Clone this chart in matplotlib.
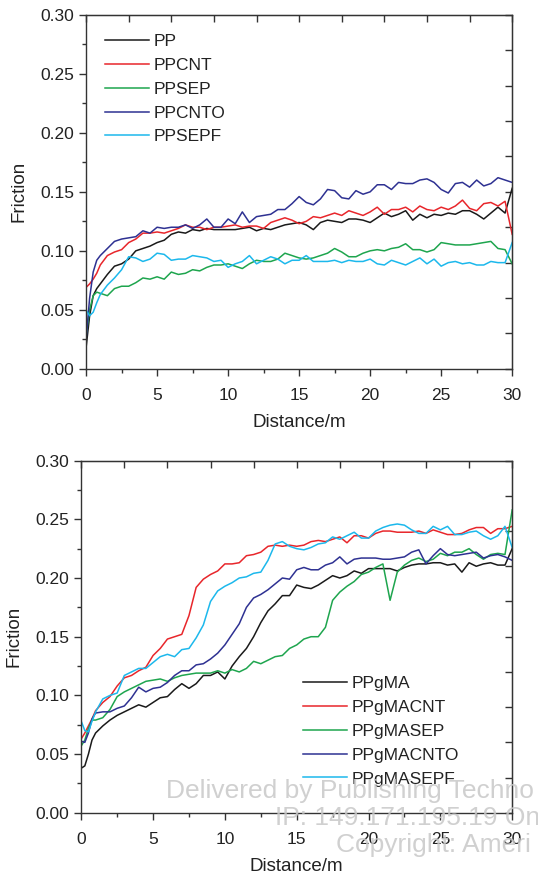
import numpy as np
import matplotlib
matplotlib.use("Agg")
import matplotlib.pyplot as plt
from matplotlib.ticker import MultipleLocator

plt.rcParams["font.family"] = ["Liberation Sans", "DejaVu Sans"]
plt.rcParams["font.size"] = 12

# sampled distance [m]: fine steps at the start, then every 0.5 m
distance = np.concatenate([[0, 0.25, 0.5, 0.75], np.arange(1, 30.01, 0.5)])

# upper panel
pp = [0.018, 0.045, 0.062, 0.068,
      0.072, 0.080, 0.087, 0.089, 0.093, 0.100, 0.102, 0.104, 0.107, 0.109,
      0.114, 0.116, 0.115, 0.118, 0.117, 0.119, 0.118, 0.118, 0.118, 0.118,
      0.119, 0.120, 0.117, 0.119, 0.118, 0.120, 0.122, 0.123, 0.124, 0.122,
      0.118, 0.124, 0.126, 0.125, 0.124, 0.127, 0.127, 0.126, 0.124, 0.128,
      0.132, 0.129, 0.131, 0.134, 0.126, 0.131, 0.128, 0.131, 0.130, 0.132,
      0.131, 0.134, 0.134, 0.131, 0.127, 0.132, 0.137, 0.132, 0.153]
ppcnt = [0.069, 0.072, 0.076, 0.081,
         0.088, 0.096, 0.099, 0.101, 0.107, 0.110, 0.115, 0.115, 0.116, 0.115,
         0.117, 0.119, 0.122, 0.120, 0.120, 0.118, 0.120, 0.120, 0.121, 0.122,
         0.120, 0.121, 0.121, 0.119, 0.124, 0.126, 0.128, 0.126, 0.123, 0.125,
         0.129, 0.128, 0.130, 0.132, 0.130, 0.134, 0.132, 0.130, 0.133, 0.137,
         0.131, 0.135, 0.135, 0.137, 0.133, 0.138, 0.135, 0.134, 0.137, 0.135,
         0.138, 0.143, 0.136, 0.134, 0.140, 0.141, 0.138, 0.142, 0.114]
ppsep = [0.028, 0.050, 0.062, 0.065,
         0.064, 0.062, 0.068, 0.070, 0.070, 0.073, 0.077, 0.076, 0.078, 0.076,
         0.082, 0.080, 0.081, 0.084, 0.083, 0.086, 0.088, 0.088, 0.089, 0.087,
         0.085, 0.089, 0.092, 0.091, 0.091, 0.093, 0.098, 0.096, 0.094, 0.093,
         0.094, 0.096, 0.098, 0.102, 0.099, 0.095, 0.095, 0.098, 0.100, 0.101,
         0.100, 0.102, 0.103, 0.106, 0.101, 0.101, 0.099, 0.101, 0.107, 0.106,
         0.105, 0.105, 0.105, 0.106, 0.107, 0.108, 0.102, 0.101, 0.089]
ppcnto = [0.025, 0.060, 0.082, 0.092,
          0.096, 0.102, 0.108, 0.110, 0.111, 0.112, 0.117, 0.115, 0.120, 0.119,
          0.120, 0.120, 0.122, 0.119, 0.122, 0.127, 0.120, 0.120, 0.127, 0.123,
          0.133, 0.124, 0.129, 0.130, 0.131, 0.135, 0.135, 0.140, 0.146, 0.141,
          0.139, 0.144, 0.152, 0.151, 0.145, 0.144, 0.151, 0.148, 0.150, 0.156,
          0.156, 0.152, 0.158, 0.157, 0.157, 0.160, 0.161, 0.158, 0.152, 0.149,
          0.157, 0.158, 0.154, 0.160, 0.155, 0.157, 0.162, 0.160, 0.158]
ppsepf = [0.050, 0.045, 0.048, 0.056,
          0.063, 0.071, 0.077, 0.084, 0.095, 0.094, 0.091, 0.093, 0.098, 0.097,
          0.092, 0.093, 0.093, 0.096, 0.095, 0.094, 0.091, 0.092, 0.086, 0.089,
          0.091, 0.096, 0.089, 0.092, 0.095, 0.093, 0.089, 0.092, 0.092, 0.096,
          0.091, 0.091, 0.091, 0.092, 0.090, 0.092, 0.091, 0.091, 0.093, 0.089,
          0.088, 0.092, 0.090, 0.088, 0.091, 0.094, 0.089, 0.093, 0.087, 0.090,
          0.091, 0.089, 0.090, 0.088, 0.088, 0.091, 0.090, 0.090, 0.107]

# lower panel
ppgma = [0.038, 0.040, 0.050, 0.062,
         0.068, 0.074, 0.079, 0.083, 0.086, 0.089, 0.092, 0.090, 0.094, 0.098,
         0.099, 0.105, 0.110, 0.106, 0.110, 0.117, 0.117, 0.120, 0.114, 0.125,
         0.133, 0.140, 0.150, 0.162, 0.172, 0.178, 0.185, 0.185, 0.194, 0.192,
         0.191, 0.194, 0.198, 0.202, 0.200, 0.202, 0.206, 0.204, 0.208, 0.208,
         0.208, 0.208, 0.206, 0.209, 0.211, 0.212, 0.212, 0.213, 0.213, 0.211,
         0.212, 0.205, 0.213, 0.210, 0.212, 0.213, 0.211, 0.211, 0.225]
ppgmacnt = [0.063, 0.068, 0.074, 0.080,
            0.087, 0.094, 0.099, 0.108, 0.115, 0.117, 0.121, 0.124, 0.134, 0.140,
            0.148, 0.150, 0.152, 0.168, 0.192, 0.199, 0.203, 0.206, 0.212, 0.212,
            0.213, 0.219, 0.220, 0.222, 0.227, 0.228, 0.227, 0.228, 0.227, 0.228,
            0.231, 0.232, 0.231, 0.233, 0.235, 0.230, 0.236, 0.236, 0.234, 0.238,
            0.240, 0.240, 0.239, 0.239, 0.239, 0.240, 0.238, 0.241, 0.239, 0.237,
            0.237, 0.238, 0.241, 0.243, 0.243, 0.238, 0.242, 0.242, 0.244]
ppgmasep = [0.057, 0.062, 0.072, 0.079,
            0.079, 0.081, 0.088, 0.099, 0.103, 0.106, 0.109, 0.112, 0.113, 0.114,
            0.112, 0.115, 0.117, 0.118, 0.119, 0.119, 0.119, 0.121, 0.119, 0.122,
            0.120, 0.123, 0.129, 0.127, 0.130, 0.133, 0.134, 0.140, 0.143, 0.148,
            0.150, 0.150, 0.158, 0.181, 0.188, 0.193, 0.197, 0.203, 0.205, 0.209,
            0.212, 0.181, 0.205, 0.211, 0.215, 0.217, 0.214, 0.216, 0.221, 0.219,
            0.222, 0.222, 0.225, 0.220, 0.216, 0.220, 0.221, 0.220, 0.258]
ppgmacnto = [0.061, 0.060, 0.068, 0.080,
             0.085, 0.086, 0.086, 0.089, 0.091, 0.098, 0.107, 0.103, 0.106, 0.107,
             0.111, 0.117, 0.121, 0.121, 0.126, 0.127, 0.131, 0.136, 0.143, 0.152,
             0.161, 0.175, 0.183, 0.186, 0.190, 0.195, 0.200, 0.199, 0.207, 0.209,
             0.207, 0.207, 0.211, 0.213, 0.218, 0.212, 0.216, 0.217, 0.217, 0.217,
             0.216, 0.216, 0.217, 0.218, 0.222, 0.224, 0.212, 0.219, 0.225, 0.220,
             0.219, 0.220, 0.221, 0.222, 0.217, 0.219, 0.220, 0.218, 0.215]
ppgmasepf = [0.078, 0.070, 0.069, 0.078,
             0.086, 0.097, 0.100, 0.102, 0.117, 0.120, 0.123, 0.123, 0.128, 0.133,
             0.135, 0.133, 0.139, 0.140, 0.149, 0.160, 0.180, 0.189, 0.193, 0.196,
             0.200, 0.201, 0.204, 0.205, 0.215, 0.229, 0.231, 0.227, 0.225, 0.224,
             0.226, 0.229, 0.230, 0.235, 0.233, 0.236, 0.239, 0.234, 0.234, 0.240,
             0.243, 0.245, 0.246, 0.245, 0.241, 0.238, 0.238, 0.244, 0.241, 0.244,
             0.237, 0.237, 0.239, 0.240, 0.236, 0.233, 0.236, 0.244, 0.226]

top_labels = ["PP", "PPCNT", "PPSEP", "PPCNTO", "PPSEPF"]
bottom_labels = ["PPgMA", "PPgMACNT", "PPgMASEP", "PPgMACNTO", "PPgMASEPF"]
colors = ["#1a1a1a", "#e8262b", "#1ea54e", "#2e3192", "#1cb8ec"]

# watermark lines as far as they show on the page
watermark = ["Delivered by Publishing Techno", "IP: 149.171.195.19 On",
             "Copyright: Ameri"]

text_color = "#222222"

fig = plt.figure(figsize=[5.38, 8.74], dpi=100)
ax1 = fig.add_axes([0.160, 0.578, 0.792, 0.405])
ax2 = fig.add_axes([0.151, 0.070, 0.801, 0.403])


def style_axes(ax):
    ax.set_xlim(0, 30)
    ax.set_ylim(0, 0.30)
    ax.xaxis.set_major_locator(MultipleLocator(5))
    ax.xaxis.set_minor_locator(MultipleLocator(2.5))
    ax.yaxis.set_major_locator(MultipleLocator(0.05))
    ax.yaxis.set_minor_locator(MultipleLocator(0.025))
    ax.yaxis.set_major_formatter(plt.FormatStrFormatter("%.2f"))
    ax.tick_params(which="major", direction="out", length=5, width=1,
                   color="#333333", labelcolor=text_color, labelsize=12.5)
    ax.tick_params(which="minor", direction="out", length=3, width=1,
                   color="#333333")
    ax.tick_params(axis="x", which="major", pad=9)
    for sp in ax.spines.values():
        sp.set_linewidth(1.0)
        sp.set_color("#333333")
    # inward ticks on the top and right frame
    top = ax.secondary_xaxis("top")
    top.set_xticks(np.arange(0, 30.1, 3))
    top.tick_params(direction="in", length=5, width=1, color="#333333",
                    labeltop=False)
    right = ax.secondary_yaxis("right")
    right.set_yticks(np.arange(0, 0.301, 0.03))
    right.tick_params(direction="in", length=5, width=1, color="#333333",
                      labelright=False)
    ax.set_xlabel("Distance/m", fontsize=13.5, color=text_color, labelpad=8)
    ax.set_ylabel("Friction", fontsize=13.5, color=text_color, labelpad=9)


for series, label, c in zip([pp, ppcnt, ppsep, ppcnto, ppsepf], top_labels, colors):
    ax1.plot(distance, series, color=c, lw=1.1, label=label)
style_axes(ax1)
ax1.legend(loc="upper left", frameon=False, fontsize=12.5, handlelength=2.5,
           handletextpad=0.3, labelspacing=0.5, labelcolor=text_color,
           borderaxespad=0.7)

for series, label, c in zip([ppgma, ppgmacnt, ppgmasep, ppgmacnto, ppgmasepf],
                            bottom_labels, colors):
    ax2.plot(distance, series, color=c, lw=1.1, label=label)
style_axes(ax2)
ax2.legend(loc="upper left", bbox_to_anchor=(0.499, 0.408), borderaxespad=0,
           frameon=False, fontsize=12.5, handlelength=2.5, handletextpad=0.3,
           labelspacing=0.5, labelcolor=text_color)

# publisher watermark, running off the right edge of the page
wm = dict(fontsize=19, color="#c8c8c8", alpha=0.85, zorder=20, ha="left", va="center")
fig.text(166 / 538, 1 - 791 / 874, watermark[0], **wm)
fig.text(275 / 538, 1 - 818 / 874, watermark[1], **wm)
fig.text(336 / 538, 1 - 845 / 874, watermark[2], **wm)

fig.savefig("out.png", dpi=100)
